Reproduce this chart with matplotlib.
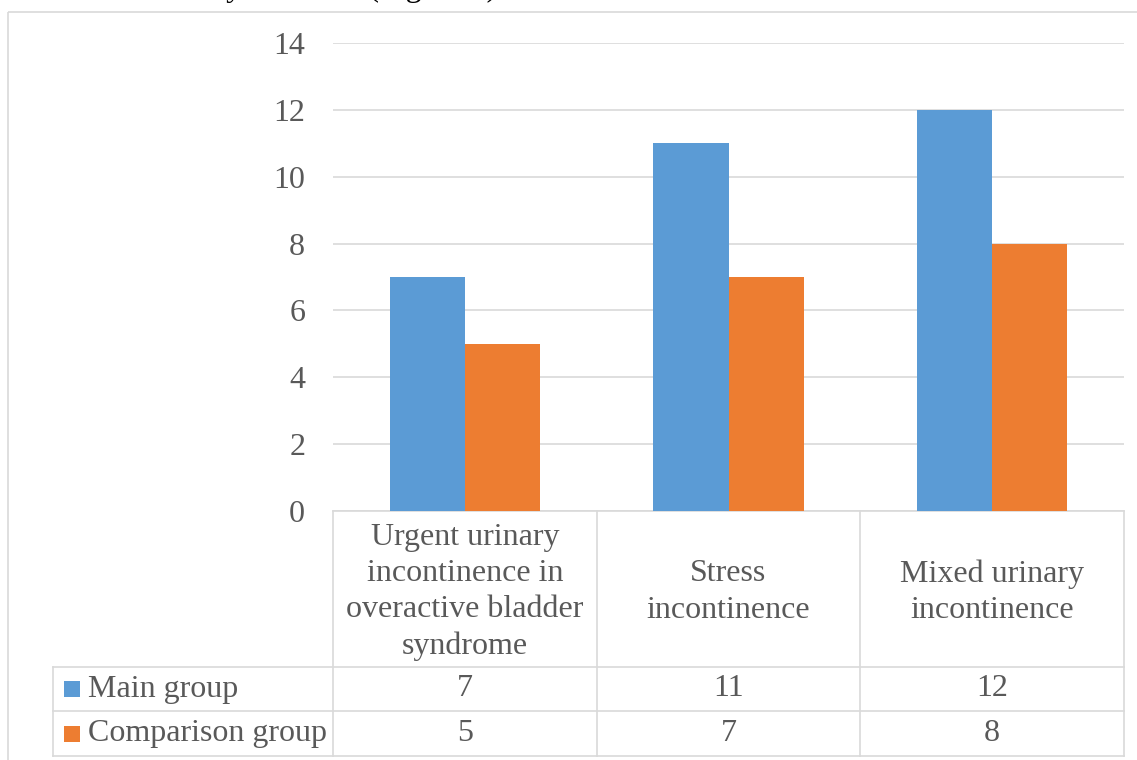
import matplotlib
matplotlib.use("Agg")
import matplotlib.pyplot as plt
from matplotlib.patches import Rectangle

# Data
categories = ["Urgent urinary\nincontinence in\noveractive bladder\nsyndrome",
              "Stress\nincontinence",
              "Mixed urinary\nincontinence"]
series_names = ["Main group", "Comparison group"]
main_group = [7, 11, 12]
comparison_group = [5, 7, 8]
y_ticks = [0, 2, 4, 6, 8, 10, 12, 14]

colors = ["#5B9BD5", "#ED7D31"]
grid_c = "#D9D9D9"
text_c = "#595959"
plt.rcParams["font.family"] = ["Liberation Serif", "DejaVu Serif"]

W, H = 1137, 760
fig = plt.figure(figsize=(W / 100, H / 100), dpi=100)

# overlay in pixel coords for the border / data table
tab = fig.add_axes([0, 0, 1, 1], zorder=0)
tab.set_xlim(0, W)
tab.set_ylim(H, 0)
tab.axis("off")

# plot area (pixels)
px_l, px_r, px_t, px_b = 333, 1124, 43, 511
ax = fig.add_axes([px_l / W, 1 - px_b / H, (px_r - px_l) / W, (px_b - px_t) / H], zorder=2)
ax.patch.set_alpha(0)

x = range(len(categories))
bw = 0.285
ax.bar([i - bw / 2 for i in x], main_group, bw, color=colors[0], zorder=3)
ax.bar([i + bw / 2 for i in x], comparison_group, bw, color=colors[1], zorder=3)
ax.set_xlim(-0.5, len(categories) - 0.5)
ax.set_ylim(0, 14)
ax.set_yticks(y_ticks)
ax.set_xticks([])
ax.tick_params(axis="y", length=0, pad=20, labelsize=23, labelcolor=text_c)
ax.yaxis.grid(True, color=grid_c, linewidth=1.2)
ax.set_axisbelow(True)
for s in ax.spines.values():
    s.set_visible(False)

# line of document text above the chart, cut off by the crop as in the source
fig.text(497 / W, 1 + 4 / H, "clinically obtained (Figure 2)", ha="right", va="baseline",
         fontsize=23, color="black")

# outer chart border
tab.add_patch(Rectangle((8, 12), W + 20, H + 20, fill=False, edgecolor=grid_c, linewidth=1.2))

# data table
lw = 1.2
leg_l = 53
hdr_b = 667
row_b = [711, 756]
col_w = (px_r - px_l) / len(categories)
edges = [px_l + i * col_w for i in range(len(categories) + 1)]

tab.plot([px_l, px_r], [px_b, px_b], color=grid_c, lw=lw)
for e in edges:
    tab.plot([e, e], [px_b, row_b[-1]], color=grid_c, lw=lw)
tab.plot([leg_l, leg_l], [hdr_b, row_b[-1]], color=grid_c, lw=lw)
for yy in [hdr_b] + row_b:
    tab.plot([leg_l, px_r], [yy, yy], color=grid_c, lw=lw)

for i, c in enumerate(categories):
    tab.text((edges[i] + edges[i + 1]) / 2, (px_b + hdr_b) / 2 + 3, c, ha="center", va="center",
             fontsize=23, color=text_c, linespacing=1.33)

tops = [hdr_b] + row_b[:-1]
for r, (name, vals) in enumerate(zip(series_names, [main_group, comparison_group])):
    yc = (tops[r] + row_b[r]) / 2
    tab.add_patch(Rectangle((64, yc - 8), 16, 16, color=colors[r], linewidth=0))
    tab.text(88, yc, name, ha="left", va="center", fontsize=23, color=text_c)
    for i, v in enumerate(vals):
        tab.text((edges[i] + edges[i + 1]) / 2, yc, str(v), ha="center", va="center",
                 fontsize=23, color=text_c)

fig.savefig("out.png", dpi=100)
